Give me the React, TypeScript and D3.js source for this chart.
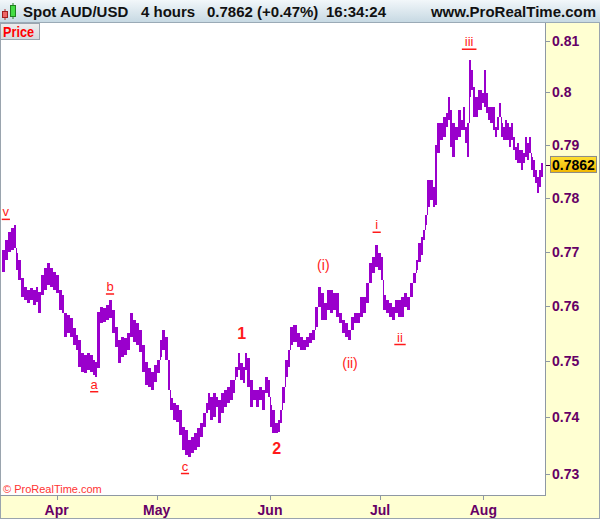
import React from "react";
import * as d3 from "d3";

// ---- data (4-hour bar clusters: bar index, high, low) ----
const barIndex = [2,6,10,13,17,19,22,25,29,32,36,40,43,46,49,53,56,60,64,67,71,74,77,80,84,88,91,94,97,101,104,108,112,114,116,120,124,127,131,134,138,142,145,149,152,156,160,163,167,170,174,178,181,185,188,192,194,198,202,204,208,211,215,218,222,226,229,233,236,240,244,247,250,252,256,259,262,265,269,272,276,280,282,286,288,292,294,296,300,304,307,311,314,318,322,324,326,330,334,336,338,342,346,348,352,356,360,364,367,371,374,378,382,385,389,392,396,400,403,407,410,414,418,421,425,428,432,436,439,443,446,450,454,457,460,463,467,470,474,478,481,485,488,492,496,499,502,505,508,510,512,516,520,522,524,528,532,535,538,540,542,546,550,553,556,558,560,563,565,568,570,574,576,578,581,583,586,588,592,594,596,599,601,604,606,608,611,613,616,618,620,623,625,628,630,632,635,637,640,642,644,647,649];

const highs = [0.7703,0.7722,0.7737,0.7744,0.7750,0.7698,0.7685,0.7652,0.7635,0.7630,0.7633,0.7630,0.7635,0.7626,0.7657,0.7670,0.7679,0.7670,0.7663,0.7657,0.7630,0.7621,0.7588,0.7584,0.7579,0.7560,0.7548,0.7539,0.7515,0.7512,0.7515,0.7512,0.7503,0.7499,0.7589,0.7599,0.7597,0.7602,0.7611,0.7593,0.7562,0.7539,0.7544,0.7542,0.7551,0.7588,0.7575,0.7570,0.7557,0.7530,0.7499,0.7488,0.7481,0.7494,0.7503,0.7539,0.7557,0.7544,0.7503,0.7435,0.7426,0.7422,0.7413,0.7383,0.7378,0.7360,0.7365,0.7372,0.7381,0.7390,0.7408,0.7426,0.7444,0.7436,0.7444,0.7436,0.7431,0.7444,0.7449,0.7454,0.7467,0.7467,0.7490,0.7515,0.7497,0.7490,0.7515,0.7506,0.7467,0.7449,0.7449,0.7454,0.7449,0.7472,0.7467,0.7422,0.7413,0.7390,0.7395,0.7413,0.7454,0.7503,0.7521,0.7562,0.7566,0.7551,0.7544,0.7539,0.7544,0.7551,0.7557,0.7599,0.7635,0.7624,0.7606,0.7630,0.7630,0.7624,0.7624,0.7588,0.7575,0.7570,0.7557,0.7580,0.7588,0.7588,0.7617,0.7617,0.7643,0.7679,0.7690,0.7712,0.7698,0.7690,0.7621,0.7611,0.7606,0.7599,0.7611,0.7611,0.7617,0.7624,0.7617,0.7643,0.7661,0.7685,0.7716,0.7727,0.7740,0.7768,0.7834,0.7834,0.7821,0.7900,0.7942,0.7942,0.7953,0.7961,0.7991,0.7967,0.7942,0.7934,0.7967,0.7948,0.7972,0.7934,0.7942,0.8063,0.8043,0.8011,0.7991,0.8005,0.8005,0.7999,0.8043,0.7999,0.7972,0.7972,0.7972,0.7934,0.7953,0.7980,0.7942,0.7934,0.7948,0.7942,0.7934,0.7942,0.7915,0.7896,0.7904,0.7890,0.7890,0.7885,0.7915,0.7904,0.7915,0.7877,0.7872,0.7853,0.7840,0.7853,0.7866];

const lows = [0.7663,0.7685,0.7699,0.7703,0.7707,0.7666,0.7648,0.7617,0.7611,0.7606,0.7611,0.7602,0.7608,0.7588,0.7621,0.7630,0.7639,0.7635,0.7630,0.7624,0.7593,0.7588,0.7544,0.7551,0.7544,0.7530,0.7521,0.7490,0.7481,0.7479,0.7485,0.7481,0.7476,0.7472,0.7488,0.7570,0.7571,0.7575,0.7579,0.7551,0.7526,0.7497,0.7508,0.7512,0.7521,0.7544,0.7535,0.7530,0.7517,0.7481,0.7458,0.7454,0.7449,0.7463,0.7479,0.7508,0.7521,0.7503,0.7449,0.7413,0.7395,0.7392,0.7369,0.7342,0.7334,0.7330,0.7337,0.7342,0.7348,0.7365,0.7383,0.7408,0.7413,0.7395,0.7401,0.7418,0.7390,0.7408,0.7418,0.7426,0.7431,0.7444,0.7472,0.7485,0.7467,0.7461,0.7485,0.7454,0.7418,0.7431,0.7418,0.7431,0.7413,0.7444,0.7436,0.7383,0.7372,0.7372,0.7374,0.7390,0.7426,0.7472,0.7490,0.7530,0.7535,0.7526,0.7521,0.7521,0.7526,0.7533,0.7539,0.7562,0.7599,0.7575,0.7575,0.7593,0.7588,0.7593,0.7580,0.7570,0.7551,0.7544,0.7539,0.7557,0.7570,0.7570,0.7580,0.7588,0.7606,0.7643,0.7661,0.7672,0.7666,0.7648,0.7593,0.7588,0.7580,0.7575,0.7588,0.7580,0.7580,0.7599,0.7593,0.7617,0.7643,0.7666,0.7681,0.7694,0.7722,0.7750,0.7783,0.7796,0.7783,0.7787,0.7885,0.7909,0.7915,0.7934,0.7948,0.7896,0.7877,0.7909,0.7915,0.7928,0.7928,0.7904,0.7877,0.7991,0.8005,0.7953,0.7953,0.7967,0.7967,0.7980,0.7972,0.7961,0.7948,0.7942,0.7928,0.7915,0.7928,0.7953,0.7915,0.7909,0.7909,0.7909,0.7896,0.7909,0.7890,0.7872,0.7866,0.7866,0.7853,0.7866,0.7877,0.7872,0.7885,0.7853,0.7840,0.7828,0.7809,0.7821,0.7840];

const priceTicks = [0.73, 0.74, 0.75, 0.76, 0.77, 0.78, 0.79, 0.8, 0.81];
const monthLabels = ["Apr", "May", "Jun", "Jul", "Aug"];
const monthBars = [68, 188, 324, 456, 580];

const lastPrice = 0.7862;

// Elliott wave labels
const waveText = ["v", "a", "b", "c", "i", "ii", "iii"];
const waveBar = [7, 113, 132, 222, 452, 480, 563];
const wavePrice = [0.7774, 0.7459, 0.7636, 0.7314, 0.7750, 0.7544, 0.8098];

const bigText = ["1", "2"];
const bigBar = [290, 332];
const bigPrice = [0.7550, 0.7344];

const parenText = ["(i)", "(ii)"];
const parenBar = [388, 420];
const parenPrice = [0.7676, 0.7497];

const W = 600;
const H = 519;
const plotRight = 545;
const plotTop = 23;
const plotBottom = 495;
const FONT = "'Liberation Sans', Arial, Helvetica, sans-serif";
const PURPLE = "#9a00cc";
const AXIS_TEXT = "#660066";
const RED = "#ff1a1a";

export default function App() {
  const x = d3.scaleLinear().domain([0, 654]).range([0, plotRight]);
  const y = d3.scaleLog().domain([0.73, 0.81]).range([474, 40.7]);

  const n = Math.min(barIndex.length, highs.length, lows.length);
  const bars = [];
  for (let i = 0; i < n; i++) {
    const cx = Math.round(x(barIndex[i]));
    const nx = i < n - 1 ? Math.round(x(barIndex[i + 1])) : cx + 2;
    const w = Math.max(1, nx - cx);
    const top = y(highs[i]);
    const bot = y(lows[i]);
    bars.push(
      <rect key={"b" + i} x={cx} y={top} width={w} height={Math.max(1, bot - top)} fill={PURPLE} />
    );
    if (i > 0) {
      const pt = y(highs[i - 1]);
      const pb = y(lows[i - 1]);
      if (bot < pt) {
        bars.push(<rect key={"c" + i} x={cx} y={bot} width={1} height={pt - bot} fill={PURPLE} />);
      } else if (top > pb) {
        bars.push(<rect key={"c" + i} x={cx} y={pb} width={1} height={top - pb} fill={PURPLE} />);
      }
    }
  }

  return (
    <svg
      width={W}
      height={H}
      style={{ position: "absolute", left: 0, top: 0, display: "block" }}
      fontFamily={FONT}
    >
      <defs>
        <linearGradient id="hdr" x1="0" y1="0" x2="0" y2="1">
          <stop offset="0" stopColor="#f2f7fa" />
          <stop offset="1" stopColor="#c7d9e3" />
        </linearGradient>
        <linearGradient id="gold" x1="0" y1="0" x2="0" y2="1">
          <stop offset="0" stopColor="#ffe033" />
          <stop offset="1" stopColor="#f2b800" />
        </linearGradient>
        <linearGradient id="pricebox" x1="0" y1="0" x2="0" y2="1">
          <stop offset="0" stopColor="#eeeeee" />
          <stop offset="1" stopColor="#d4d8dc" />
        </linearGradient>
        <clipPath id="plotclip">
          <rect x={0} y={plotTop} width={plotRight} height={plotBottom - plotTop} />
        </clipPath>
      </defs>

      {/* backgrounds */}
      <rect x={0} y={0} width={W} height={H} fill="#ffffd2" />
      <rect x={0} y={plotTop} width={plotRight} height={plotBottom - plotTop} fill="#ffffff" />

      {/* header */}
      <rect x={0} y={0} width={W} height={22} fill="url(#hdr)" />
      <line x1={0} y1={22.5} x2={W} y2={22.5} stroke="#9aaab6" />
      {/* icon */}
      <line x1={5} y1={9} x2={5} y2={20} stroke="#b03030" strokeWidth={1} />
      <rect x={2.5} y={11.5} width={5} height={6} fill="#ee6666" stroke="#a02020" strokeWidth={1} />
      <line x1={13} y1={3} x2={13} y2={19} stroke="#208020" strokeWidth={1} />
      <rect x={10.5} y={5.5} width={5} height={11} fill="#44dd44" stroke="#208020" strokeWidth={1} />
      <text x={23} y={17} fontSize={15} fontWeight="bold" fill="#111">Spot AUD/USD</text>
      <text x={141} y={17} fontSize={15} fontWeight="bold" fill="#111">4 hours</text>
      <text x={207} y={17} fontSize={15} fontWeight="bold" fill="#111">0.7862 (+0.47%)</text>
      <text x={326} y={17} fontSize={15} fontWeight="bold" fill="#111">16:34:24</text>
      <text x={596} y={17} fontSize={15} fontWeight="bold" fill="#111" textAnchor="end">www.ProRealTime.com</text>

      {/* price bars */}
      <g clipPath="url(#plotclip)" shapeRendering="crispEdges">{bars}</g>

      {/* wave labels */}
      {waveText.map((t, i) => {
        const cx = x(waveBar[i]);
        const cy = y(wavePrice[i]);
        const tw = t.length * 3.2 + 5;
        return (
          <g key={"w" + i}>
            <text x={cx} y={cy + 4.5} fontSize={13} fill={RED} textAnchor="middle">{t}</text>
            <line x1={cx - tw / 2} x2={cx + tw / 2} y1={cy + 7.5} y2={cy + 7.5} stroke={RED} strokeWidth={1.5} />
          </g>
        );
      })}
      {bigText.map((t, i) => (
        <text key={"g" + i} x={x(bigBar[i])} y={y(bigPrice[i]) + 5.5} fontSize={16} fontWeight="bold" fill={RED} textAnchor="middle">{t}</text>
      ))}
      {parenText.map((t, i) => (
        <text key={"p" + i} x={x(parenBar[i])} y={y(parenPrice[i]) + 5} fontSize={14} fill={RED} textAnchor="middle">{t}</text>
      ))}

      {/* Price tag */}
      <rect x={0.5} y={23.5} width={39} height={16} fill="url(#pricebox)" stroke="#9aa4ae" />
      <text x={3} y={37} fontSize={14} fontWeight="bold" fill="#ff0000" textLength={31} lengthAdjust="spacingAndGlyphs">Price</text>

      {/* copyright */}
      <text x={3} y={493} fontSize={11} fill="#ff3333">© ProRealTime.com</text>

      {/* frame lines */}
      <line x1={0.5} y1={plotTop} x2={0.5} y2={H} stroke="#9aa4ae" />
      <line x1={0} y1={plotBottom + 0.5} x2={plotRight + 1} y2={plotBottom + 0.5} stroke="#8e98a4" />
      <line x1={plotRight + 0.5} y1={plotTop} x2={plotRight + 0.5} y2={plotBottom + 1} stroke="#8e98a4" />
      <line x1={W - 0.5} y1={plotTop} x2={W - 0.5} y2={H} stroke="#9aa4ae" />
      <line x1={0} y1={H - 0.5} x2={W} y2={H - 0.5} stroke="#9aa4ae" />

      {/* right axis */}
      {priceTicks.map((p) => (
        <g key={"t" + p}>
          <line x1={plotRight + 1} x2={plotRight + 5} y1={Math.round(y(p)) + 0.5} y2={Math.round(y(p)) + 0.5} stroke="#8e98a4" />
          <text x={552} y={y(p) + 5} fontSize={14} fontWeight="bold" fill={AXIS_TEXT}>{String(p)}</text>
        </g>
      ))}
      {/* last price box */}
      <line x1={plotRight + 1} x2={550} y1={Math.round(y(lastPrice)) + 0.5} y2={Math.round(y(lastPrice)) + 0.5} stroke="#440044" />
      <rect x={550.5} y={y(lastPrice) - 8.5} width={46} height={16} fill="url(#gold)" stroke="#8a8a8a" />
      <text x={573.5} y={y(lastPrice) + 5} fontSize={14} fontWeight="bold" fill="#000" textAnchor="middle">0.7862</text>

      {/* bottom axis */}
      {monthBars.map((b, i) => (
        <g key={"m" + i}>
          <line x1={Math.round(x(b)) + 0.5} x2={Math.round(x(b)) + 0.5} y1={plotBottom + 1} y2={plotBottom + 5} stroke="#8e98a4" />
          <text x={x(b)} y={515} fontSize={14} fontWeight="bold" fill={AXIS_TEXT} textAnchor="middle">{monthLabels[i]}</text>
        </g>
      ))}
    </svg>
  );
}
